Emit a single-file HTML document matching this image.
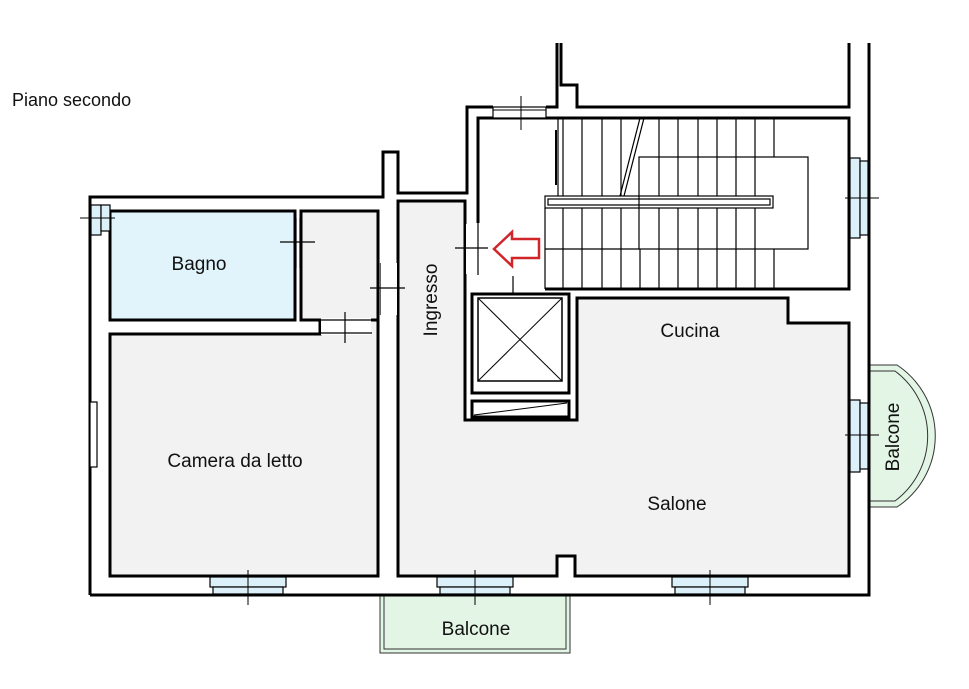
<!DOCTYPE html>
<html><head><meta charset="utf-8"><style>
html,body{margin:0;padding:0;background:#fff;}
svg{display:block;}
text{font-family:"Liberation Sans",Arial,sans-serif;fill:#111;}
</style></head><body>
<svg width="969" height="689" viewBox="0 0 969 689" xmlns="http://www.w3.org/2000/svg">
<rect width="969" height="689" fill="#fff"/>
<text x="12" y="106" font-size="18">Piano secondo</text>

<!-- balconies -->
<rect x="380" y="595" width="190" height="58" fill="#e3f6e6" stroke="#333" stroke-width="1"/>
<rect x="384" y="595" width="182" height="54" fill="none" stroke="#333" stroke-width="1"/>
<path d="M869,365 L897,365 A85,85 0 0 1 897,507 L869,507" fill="#e3f6e6" stroke="#333" stroke-width="1"/>
<path d="M869,371 L895,371 A81,81 0 0 1 895,501 L869,501" fill="none" stroke="#333" stroke-width="1"/>

<g fill="none" stroke="#000" stroke-width="3">
<polyline points="90,595 90,197 383,197 383,152 398,152 398,193 467,193 467,107 493,107"/>
<polyline points="546,107 557,107 557,43"/>
<polyline points="561,43 561,85 577,85 577,107 849,107 849,43"/>
<polyline points="869,43 869,595 90,595"/>
</g>

<g stroke="#000" stroke-width="3">
<rect x="110" y="211" width="185" height="109" fill="#e1f4fc"/>
<rect x="301" y="211" width="77" height="109" fill="#f2f2f2"/>
<polygon points="110,334 320,334 320,320 378,320 378,576 110,576" fill="#f2f2f2"/>
<polygon points="398,201 465,201 465,420 577,420 577,298 788,298 788,323 849,323 849,576 575,576 575,556 557,556 557,576 398,576" fill="#f2f2f2"/>
<polyline points="478,223 478,118 849,118 849,289 545,289" fill="none"/>
</g>
<g fill="#fff">
<rect x="296" y="218" width="4" height="50"/>
<rect x="321" y="318" width="50" height="17"/>
<rect x="379" y="263" width="18" height="52"/>
<rect x="466" y="224" width="11" height="50"/>
<rect x="488" y="288" width="50" height="4"/>
</g>
<g stroke="#000" stroke-width="1.2" fill="none">
<line x1="280" y1="242" x2="315" y2="242"/><line x1="296" y1="218" x2="296" y2="268"/><line x1="300" y1="218" x2="300" y2="268"/>
<line x1="345" y1="312" x2="345" y2="343"/><line x1="320" y1="333" x2="372" y2="333"/><line x1="320" y1="320" x2="372" y2="320"/>
<line x1="370" y1="288" x2="405" y2="288"/><line x1="380" y1="263" x2="380" y2="315"/><line x1="398" y1="263" x2="398" y2="315"/>
<line x1="455" y1="248" x2="488" y2="248"/><line x1="465" y1="223" x2="465" y2="275"/><line x1="478" y1="223" x2="478" y2="275"/>
<line x1="513" y1="276" x2="513" y2="308"/>
</g>

<!-- stairs -->
<g stroke="#000" stroke-width="1.2" fill="none">
<line x1="558" y1="118" x2="558" y2="196"/>
<line x1="556" y1="130" x2="556" y2="185" stroke-width="2"/>
<rect x="545" y="196" width="228" height="12"/>
<rect x="548" y="199" width="222" height="6"/>
<rect x="639" y="157" width="169" height="92"/>
<line x1="545" y1="208" x2="545" y2="289"/>
<line x1="545" y1="249" x2="639" y2="249"/>
<line x1="620" y1="196" x2="640" y2="118"/><line x1="624" y1="196" x2="644" y2="118"/>
<line x1="563" y1="118" x2="563" y2="196"/><line x1="582" y1="118" x2="582" y2="196"/><line x1="602" y1="118" x2="602" y2="196"/><line x1="621" y1="118" x2="621" y2="196"/>
<line x1="659" y1="118" x2="659" y2="196"/><line x1="678" y1="118" x2="678" y2="196"/><line x1="698" y1="118" x2="698" y2="196"/><line x1="717" y1="118" x2="717" y2="196"/><line x1="736" y1="118" x2="736" y2="196"/><line x1="755" y1="118" x2="755" y2="196"/><line x1="774" y1="118" x2="774" y2="157"/>
<line x1="563" y1="208" x2="563" y2="289"/><line x1="582" y1="208" x2="582" y2="289"/><line x1="602" y1="208" x2="602" y2="289"/><line x1="621" y1="208" x2="621" y2="289"/><line x1="640" y1="249" x2="640" y2="289"/><line x1="659" y1="208" x2="659" y2="289"/><line x1="678" y1="208" x2="678" y2="289"/><line x1="698" y1="208" x2="698" y2="289"/><line x1="717" y1="208" x2="717" y2="289"/><line x1="736" y1="208" x2="736" y2="289"/><line x1="755" y1="208" x2="755" y2="289"/><line x1="774" y1="249" x2="774" y2="289"/>
</g>
<polygon points="494,249 512,232 512,239 539,239 539,258 512,258 512,266" fill="#fff" stroke="#d0262a" stroke-width="2.5"/>

<!-- elevator -->
<g stroke="#000" fill="#fff">
<rect x="472" y="294" width="97" height="99" stroke-width="3"/>
<rect x="478" y="298" width="84" height="83" stroke-width="1.5"/>
<rect x="472" y="401" width="97" height="16" stroke-width="3"/>
</g>
<g stroke="#000" stroke-width="1" fill="none">
<line x1="478" y1="298" x2="562" y2="381"/><line x1="562" y1="298" x2="478" y2="381"/>
<line x1="474" y1="415" x2="567" y2="403"/>
</g>

<!-- windows -->
<g fill="#dcf0fa" stroke="#000" stroke-width="1.2">
<rect x="210" y="577" width="76" height="10"/><rect x="213" y="587" width="70" height="7"/>
<rect x="437" y="577" width="76" height="10"/><rect x="440" y="587" width="70" height="7"/>
<rect x="672" y="577" width="76" height="10"/><rect x="675" y="587" width="70" height="7"/>
<rect x="850" y="158" width="10" height="80"/><rect x="860" y="161" width="8" height="74"/>
<rect x="850" y="400" width="10" height="72"/><rect x="860" y="403" width="8" height="66"/>
<rect x="91" y="205" width="10" height="30"/><rect x="101" y="205" width="9" height="26"/>
<rect x="90" y="402" width="7" height="65" fill="#fff"/>
<rect x="493" y="107" width="53" height="11" fill="#fff"/>
</g>
<g stroke="#000" stroke-width="1">
<line x1="248" y1="570" x2="248" y2="605"/>
<line x1="475" y1="570" x2="475" y2="605"/>
<line x1="710" y1="570" x2="710" y2="605"/>
<line x1="845" y1="198" x2="879" y2="198"/>
<line x1="845" y1="435" x2="879" y2="435"/>
<line x1="80" y1="218" x2="115" y2="218"/>
<line x1="521" y1="96" x2="521" y2="130"/>
<line x1="493" y1="110" x2="546" y2="110"/>
</g>

<text x="199" y="270" font-size="19" text-anchor="middle">Bagno</text>
<text x="235" y="467" font-size="19" text-anchor="middle">Camera da letto</text>
<text x="690" y="337" font-size="19" text-anchor="middle">Cucina</text>
<text x="677" y="510" font-size="19" text-anchor="middle">Salone</text>
<text x="476" y="635" font-size="19" text-anchor="middle">Balcone</text>
<text transform="translate(437,300) rotate(-90)" font-size="19" text-anchor="middle">Ingresso</text>
<text transform="translate(899,437) rotate(-90)" font-size="19" text-anchor="middle">Balcone</text>
</svg>
</body></html>
